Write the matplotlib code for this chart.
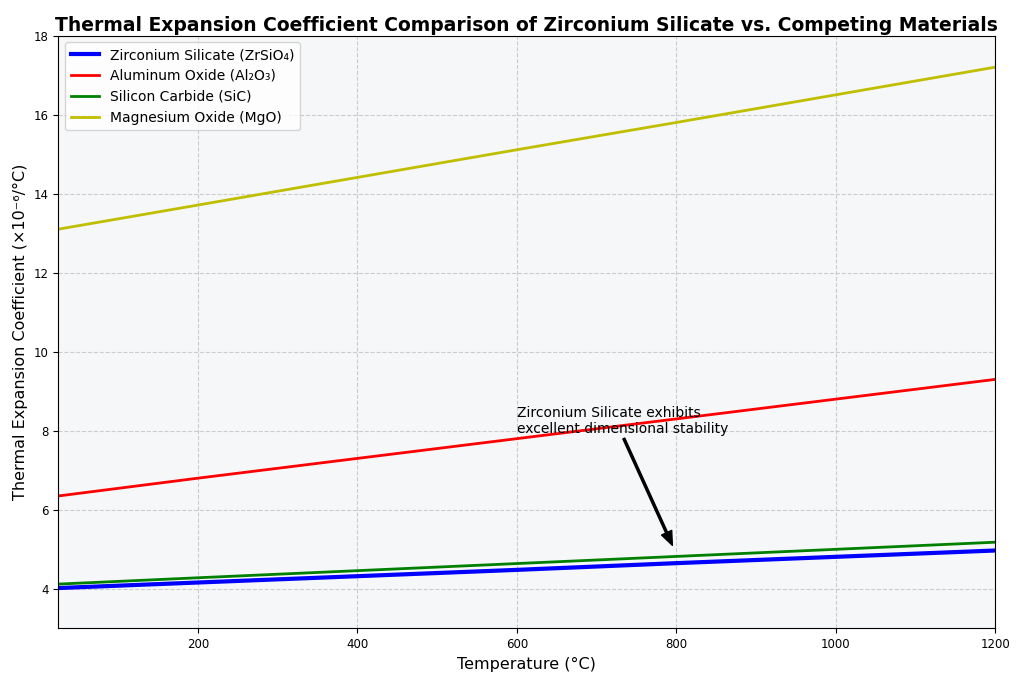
import matplotlib
matplotlib.use("Agg")
import matplotlib.pyplot as plt

temperature = [25, 200, 400, 600, 800, 1000, 1200]
zrsio4 = [4.02, 4.16, 4.32, 4.48, 4.65, 4.81, 4.97]
al2o3 = [6.35, 6.80, 7.30, 7.80, 8.30, 8.80, 9.30]
sic = [4.12, 4.28, 4.46, 4.64, 4.82, 5.00, 5.18]
mgo = [13.1, 13.71, 14.41, 15.11, 15.80, 16.50, 17.20]

fig, ax = plt.subplots(figsize=(10.24, 6.83), dpi=100)
fig.subplots_adjust(left=0.057, right=0.972, top=0.948, bottom=0.08)
ax.set_facecolor("#f6f7f9")
ax.plot(temperature, zrsio4, color="blue", lw=3, label="Zirconium Silicate (ZrSiO₄)")
ax.plot(temperature, al2o3, color="red", lw=2, label="Aluminum Oxide (Al₂O₃)")
ax.plot(temperature, sic, color="green", lw=2, label="Silicon Carbide (SiC)")
ax.plot(temperature, mgo, color="#bfbf00", lw=2, label="Magnesium Oxide (MgO)")
ax.set_xlim(25, 1200)
ax.set_ylim(3, 18)
ax.set_xticks([200, 400, 600, 800, 1000, 1200])
ax.set_yticks([4, 6, 8, 10, 12, 14, 16, 18])
ax.tick_params(labelsize=8.5)
ax.grid(True, linestyle="--", color="#bbbbbb", alpha=0.7)
ax.set_xlabel("Temperature (°C)", fontsize=11.5)
ax.set_ylabel("Thermal Expansion Coefficient (×10⁻⁶/°C)", fontsize=11.5)
ax.set_title("Thermal Expansion Coefficient Comparison of Zirconium Silicate vs. Competing Materials",
             fontsize=13.5, fontweight="bold", pad=3)
ax.annotate("Zirconium Silicate exhibits\nexcellent dimensional stability",
            xy=(795, 5.1), xytext=(600, 7.95), fontsize=10,
            arrowprops=dict(facecolor="black", edgecolor="black", width=1.5, headwidth=8, headlength=10, shrink=0))
ax.legend(loc="upper left", fontsize=10)
fig.savefig("out.png", dpi=100)
